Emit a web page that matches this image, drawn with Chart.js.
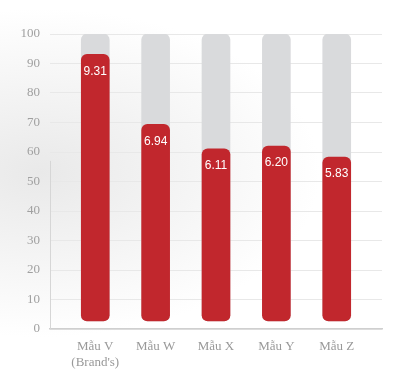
<!DOCTYPE html>
<html>
<head>
<meta charset="utf-8">
<script src="https://cdn.jsdelivr.net/npm/chart.js@4"></script>
<style>
  html, body { margin: 0; padding: 0; }
  body {
    width: 400px; height: 384px; overflow: hidden;
    background: radial-gradient(ellipse at 10% 45%, #e9e9e9 0%, #f3f3f3 25%, #ffffff 55%);
  }
  #wrap { position: relative; width: 400px; height: 384px; }
</style>
</head>
<body>
<div id="wrap"><canvas id="chart"></canvas></div>
<script>
const labels = [['Mẫu V', "(Brand's)"], 'Mẫu W', 'Mẫu X', 'Mẫu Y', 'Mẫu Z'];
const scores = [9.31, 6.94, 6.11, 6.20, 5.83];   // out of 10
const maxScore = 10;
const yTicks = [0, 10, 20, 30, 40, 50, 60, 70, 80, 90, 100];
const barFloor = 2.7;

const RED = '#c1272d';
const GRAY = '#d9dadc';
const SERIF = "'Liberation Serif', 'DejaVu Serif', serif";

// white score labels near the top of each red bar
const valueLabels = {
  id: 'valueLabels',
  afterDatasetsDraw(chart) {
    const { ctx } = chart;
    const meta = chart.getDatasetMeta(0);
    ctx.save();
    ctx.fillStyle = '#ffffff';
    ctx.font = "12px 'Liberation Sans', Arial, sans-serif";
    ctx.textAlign = 'center';
    ctx.textBaseline = 'middle';
    meta.data.forEach((bar, i) => {
      ctx.fillText(scores[i].toFixed(2), bar.x, bar.y + 17);
    });
    ctx.restore();
  }
};

// faint partial left axis line seen in the original
const leftLine = {
  id: 'leftLine',
  beforeDatasetsDraw(chart) {
    const { ctx, chartArea } = chart;
    const y = chart.scales.y;
    ctx.save();
    ctx.strokeStyle = '#d6d6d6';
    ctx.lineWidth = 1;
    ctx.beginPath();
    ctx.moveTo(chartArea.left + 0.5, y.getPixelForValue(57));
    ctx.lineTo(chartArea.left + 0.5, y.getPixelForValue(0));
    ctx.stroke();
    ctx.restore();
  }
};

new Chart(document.getElementById('chart'), {
  type: 'bar',
  data: {
    datasets: [
      {
        data: scores.map((v, i) => ({ x: i, y: [barFloor, v * 10] })),
        backgroundColor: RED,
        borderRadius: 6,
        borderSkipped: false,
        barThickness: 28,
        grouped: false,
      },
      {
        data: scores.map((v, i) => ({ x: i, y: [barFloor, maxScore * 10] })),
        backgroundColor: GRAY,
        borderRadius: 6,
        borderSkipped: false,
        barThickness: 28,
        grouped: false,
      }
    ]
  },
  options: {
    responsive: true,
    maintainAspectRatio: false,
    animation: false,
    layout: { padding: { top: 34, right: 18, bottom: 0, left: 0 } },
    plugins: {
      legend: { display: false },
      tooltip: { enabled: false },
    },
    scales: {
      x: {
        type: 'linear',
        min: -0.75,
        max: 4.75,
        offset: false,
        afterBuildTicks: s => { s.ticks = labels.map((_, i) => ({ value: i })); },
        afterFit: s => { s.height = 55; },
        grid: { display: false, drawTicks: false, offset: false },
        border: { display: true, color: '#cfcfcf', width: 1.5 },
        ticks: {
          padding: 10,
          color: '#999999',
          font: { family: SERIF, size: 13 },
          callback: v => labels[v],
          autoSkip: false,
          maxRotation: 0,
        },
      },
      y: {
        min: 0,
        max: 100,
        afterBuildTicks: s => { s.ticks = yTicks.map(v => ({ value: v })); },
        afterFit: s => { s.width = 50; },
        grid: { color: '#e8e8e8', drawTicks: false },
        border: { display: false },
        ticks: {
          padding: 10,
          color: '#a0a0a0',
          font: { family: SERIF, size: 13 },
        },
      }
    }
  },
  plugins: [leftLine, valueLabels]
});
</script>
</body>
</html>
